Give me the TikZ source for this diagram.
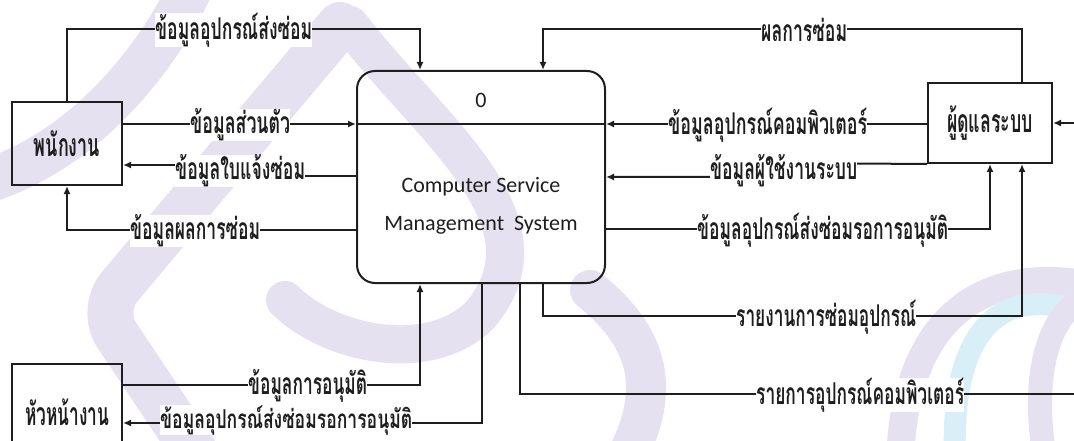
\documentclass[tikz,border=0pt]{standalone}
\usepackage{graphicx}
\usepackage{fontspec}
\setmainfont{Carlito}
\newfontfamily\thaifont[Script=Thai]{Loma}
\usetikzlibrary{arrows.meta}
\definecolor{ink}{HTML}{1E1E1E}
\definecolor{wmpurple}{HTML}{E6E1F0}
\definecolor{wmblue}{HTML}{D9EFF8}
% Thai flow label squeezed to a given width, with a small gap after it
\newcommand\flowtext[3][30]{\resizebox{#2pt}{\height}{\thaifont\bfseries\fontsize{#1}{#1}\selectfont #3}\hspace{8pt}}
% Thai entity name squeezed to a given width
\newcommand\entitytext[2]{\resizebox{#1pt}{\height}{\thaifont\bfseries\fontsize{32}{35}\selectfont #2}}
\newcommand\proctext{\fontsize{22}{26}\selectfont}
\begin{document}
\begin{tikzpicture}[x=1pt,y=-1pt,
  entity/.style={draw=ink, line width=2pt, inner sep=0pt, text=ink},
  process/.style={draw=ink, line width=2pt, rounded corners=18pt, inner sep=0pt},
  wire/.style={draw=ink, line width=2pt},
  flow/.style={draw=ink, line width=2pt, -{Latex[length=8pt,width=7pt]}},
  tag/.style={fill=white, inner xsep=0pt, inner ysep=0pt, text=ink, anchor=west},
  emblem/.style={line cap=round}]
\useasboundingbox (0,0) rectangle (1074,441);

% background emblem
\begin{scope}[emblem]
  \draw[wmpurple, line width=44pt] (190,-10) .. controls (150,70) and (80,150) .. (-10,180);
  \draw[wmpurple, line width=46pt, rounded corners=30pt] (340,25) -- (100,310) -- (200,460);
  \draw[wmpurple, line width=38pt] (350,25) .. controls (430,130) and (560,220) .. (480,315)
        .. controls (430,365) and (330,345) .. (285,300);
  \draw[wmpurple, line width=40pt] (590,290) .. controls (645,335) and (665,385) .. (625,460);
  \draw[wmpurple, line width=28pt] (900,460) .. controls (905,320) and (980,265) .. (1090,285);
  \draw[wmblue, line width=22pt] (955,460) .. controls (950,330) and (1000,280) .. (1090,315);
  \draw[wmpurple, line width=24pt] (1045,460) .. controls (1030,370) and (1050,310) .. (1090,295);
\end{scope}

% external entities and the process
\node[entity, minimum width=110pt, minimum height=83pt] (emp) at (67,143.5) {\entitytext{66}{พนักงาน}};
\node[entity, minimum width=124pt, minimum height=80pt] (admin) at (990,123) {\entitytext{86}{ผู้ดูแลระบบ}};
\node[entity, minimum width=110pt, minimum height=96pt] (head) at (67,412) {\entitytext{84}{หัวหน้างาน}};
\node[process, minimum width=248pt, minimum height=212pt] (proc) at (481,177) {};
\node[text=ink] (pid) at (481,100) {\proctext 0};
\node[text=ink] (pname1) at (481,187) {\proctext Computer Service};
\node[text=ink] (pname2) at (481,225) {\proctext Management\ \ System};
\draw[wire] (proc.west |- 0,124) -- (proc.east |- 0,124);

% data flows
\draw[flow] (emp.north) |- (420,29) -- (proc.north -| 420,0);
\draw[flow] (emp.east |- 0,124) -- (proc.west |- 0,124);
\draw[flow] (proc.west |- 0,176) -- (240,176) -- (240,165) -- (emp.east |- 0,165);
\draw[flow] (proc.west |- 0,230) -| (emp.south);
\draw[flow] (admin.north -| 1022,0) |- (543,29) -- (proc.north -| 543,0);
\draw[flow] (admin.west |- 0,124) -- (proc.east |- 0,124);
\draw[flow] (admin.south west) -- (783,163) -- (783,177) -- (proc.east |- 0,177);
\draw[flow] (proc.east |- 0,229) -| (admin.south -| 990,0);
\draw[flow] (proc.south -| 543,0) |- (1022,316) -- (admin.south -| 1022,0);
\draw[flow] (proc.south -| 520,0) |- (1110,394) |- (admin.east);
\draw[flow] (head.east |- 0,385) -| (proc.south -| 420,0);
\draw[flow] (proc.south -| 482,0) |- (head.east |- 0,423);

% flow labels
\node[tag] (f1) at (155,30) {\flowtext{157}{ข้อมูลอุปกรณ์ส่งซ่อม}};
\node[tag] (f2) at (190,125) {\flowtext{100}{ข้อมูลส่วนตัว}};
\node[tag] (f3) at (175,171) {\flowtext{130}{ข้อมูลใบแจ้งซ่อม}};
\node[tag] (f4) at (130,231) {\flowtext{130}{ข้อมูลผลการซ่อม}};
\node[tag] (f5) at (761,30) {\flowtext{86}{ผลการซ่อม}};
\node[tag] (f6) at (668,125) {\flowtext{199}{ข้อมูลอุปกรณ์คอมพิวเตอร์}};
\node[tag] (f7) at (710,171) {\flowtext{147}{ข้อมูลผู้ใช้งานระบบ}};
\node[tag] (f8) at (697,230) {\flowtext{251}{ข้อมูลอุปกรณ์ส่งซ่อมรอการอนุมัติ}};
\node[tag] (f9) at (736,317) {\flowtext{180}{รายงานการซ่อมอุปกรณ์}};
\node[tag] (f10) at (756,395) {\flowtext{208}{รายการอุปกรณ์คอมพิวเตอร์}};
\node[tag] (f11) at (248,386) {\flowtext{119}{ข้อมูลการอนุมัติ}};
\node[tag] (f12) at (160,420) {\flowtext[26]{252}{ข้อมูลอุปกรณ์ส่งซ่อมรอการอนุมัติ}};
\end{tikzpicture}
\end{document}
